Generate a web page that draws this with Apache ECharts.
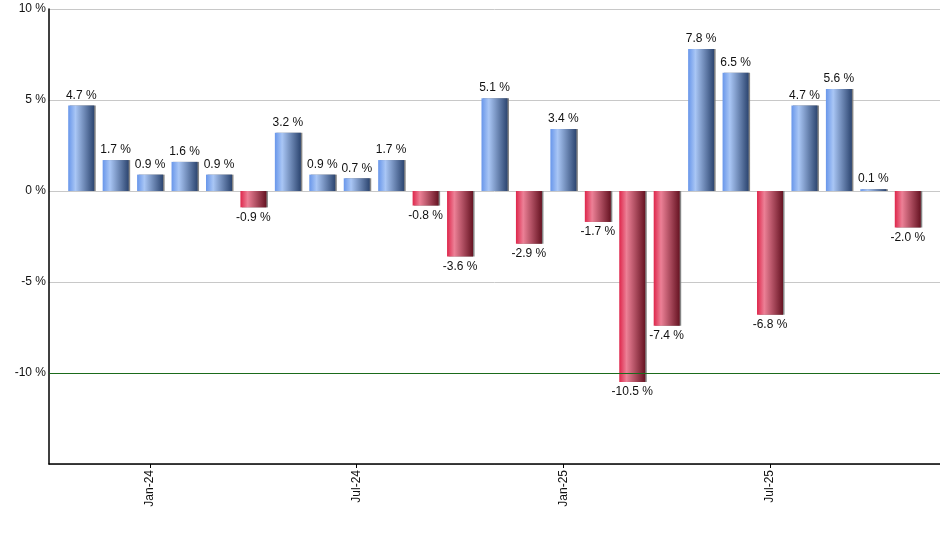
<!DOCTYPE html>
<html>
<head>
<meta charset="utf-8">
<script src="https://cdn.jsdelivr.net/npm/echarts@6/dist/echarts.min.js"></script>
<style>
html,body{margin:0;padding:0;background:#fff;}
#chart{width:940px;height:550px;}
</style>
</head>
<body>
<div id="chart"></div>
<script>
const months = ['Nov-23','Dec-23','Jan-24','Feb-24','Mar-24','Apr-24','May-24','Jun-24','Jul-24','Aug-24','Sep-24','Oct-24','Nov-24','Dec-24','Jan-25','Feb-25','Mar-25','Apr-25','May-25','Jun-25','Jul-25','Aug-25','Sep-25','Oct-25','Nov-25'];
const returns = [4.7,1.7,0.9,1.6,0.9,-0.9,3.2,0.9,0.7,1.7,-0.8,-3.6,5.1,-2.9,3.4,-1.7,-10.5,-7.4,7.8,6.5,-6.8,4.7,5.6,0.1,-2.0];
const yTicks = [-15,-10,-5,0,5,10];
const markedLevel = -10;

const blueGrad = new echarts.graphic.LinearGradient(0,0,1,0,[
  {offset:0,color:'#6896ea'},{offset:0.28,color:'#a9c6f5'},{offset:1,color:'#2c4570'}]);
const redGrad = new echarts.graphic.LinearGradient(0,0,1,0,[
  {offset:0,color:'#de264b'},{offset:0.28,color:'#ec8096'},{offset:1,color:'#661322'}]);

const chart = echarts.init(document.getElementById('chart'));
const isShown = (i) => /^(Jan|Jul)/.test(months[i]);
chart.setOption({
  animation:false,
  grid:[
    {left:49,right:0,top:9,bottom:86},
    {left:64,right:15,top:9,bottom:86}
  ],
  xAxis:[
    {gridIndex:0,type:'value',min:0,max:1,axisLine:{show:true,onZero:false,lineStyle:{color:'#000',width:1.5}},
     axisTick:{show:false},axisLabel:{show:false},splitLine:{show:false}},
    {gridIndex:1,type:'category',data:months,boundaryGap:true,
     axisLine:{show:false,onZero:false},
     axisTick:{show:true,alignWithLabel:true,length:4,interval:(i)=>isShown(i),lineStyle:{color:'#000'}},
     axisLabel:{interval:(i)=>isShown(i),rotate:90,margin:6,fontFamily:'Liberation Sans, Arial',fontSize:12,color:'#111'}}
  ],
  yAxis:[
    {gridIndex:0,type:'value',min:yTicks[0],max:yTicks[yTicks.length-1],interval:5,
     axisLine:{show:true,lineStyle:{color:'#000',width:1.5}},axisTick:{show:false},
     axisLabel:{margin:3,fontFamily:'Liberation Sans, Arial',fontSize:12,color:'#111',
       formatter:(v)=> v===yTicks[0] ? '' : v+' %'},
     splitLine:{show:true,lineStyle:{width:1,color:'#c8c8c8'}}},
    {gridIndex:1,type:'value',min:yTicks[0],max:yTicks[yTicks.length-1],interval:5,show:false}
  ],
  series:[
    {
      type:'line',xAxisIndex:0,yAxisIndex:0,data:[],silent:true,
      markLine:{silent:true,symbol:'none',label:{show:false},
        lineStyle:{color:'#1b6b1b',type:'solid',width:1.2},
        data:[{yAxis:markedLevel}]}
    },
    {
    type:'bar',xAxisIndex:1,yAxisIndex:1,barWidth:26,
    data:returns.map(v=>({
      value:v,
      itemStyle:{color: v>=0 ? blueGrad : redGrad, shadowColor:'rgba(120,120,120,0.9)',shadowOffsetX:1.5,shadowOffsetY:0,shadowBlur:0},
      label:{position: v>=0 ? 'top' : 'bottom'}
    })),
    label:{show:true,distance:4,fontFamily:'Liberation Sans, Arial',fontSize:12,color:'#111',
      formatter:(p)=>p.value.toFixed(1)+' %'}
  }]
});
</script>
</body>
</html>
